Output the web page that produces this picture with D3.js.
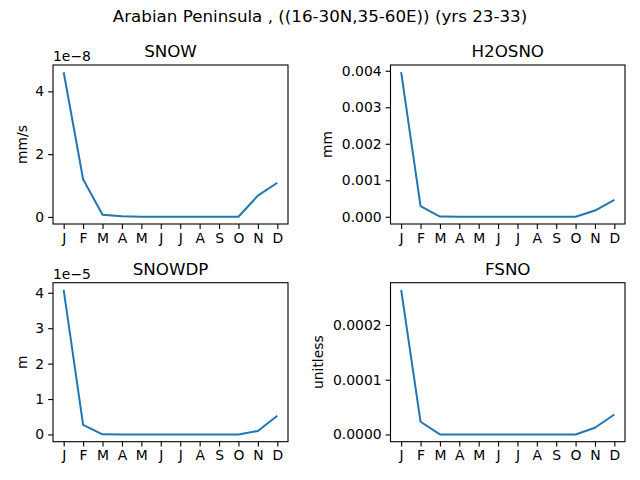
<!DOCTYPE html>
<html>
<head>
<meta charset="utf-8">
<script src="https://cdn.jsdelivr.net/npm/d3@7"></script>
<style>
  body { margin: 0; background: #fff; }
  text { font-family: "DejaVu Sans", sans-serif; fill: #000; }
</style>
</head>
<body>
<svg id="chart" width="640" height="480"></svg>
<script>
// month labels on the x axis
const months = ["J", "F", "M", "A", "M", "J", "J", "A", "S", "O", "N", "D"]

// monthly means
const snow = [4.61e-8, 1.20e-8, 0.07e-8, 0.02e-8, 0.005e-8, 0.005e-8, 0.005e-8, 0.005e-8, 0.005e-8, 0.005e-8, 0.68e-8, 1.09e-8]
const h2osno = [0.00396, 0.00029, 0.000005, 0, 0, 0, 0, 0, 0, 0, 0.00017, 0.00046]
const snowdp = [4.08e-5, 0.27e-5, 0.005e-5, 0, 0, 0, 0, 0, 0, 0, 0.10e-5, 0.53e-5]
const fsno = [2.64e-4, 0.232e-4, 0.001e-4, 0, 0, 0, 0, 0, 0, 0, 0.122e-4, 0.365e-4]

// panel titles, units and y ticks
const titles = ["SNOW", "H2OSNO", "SNOWDP", "FSNO"]
const units = ["mm/s", "mm", "m", "unitless"]
const yTicks = [
  [0, 2e-8, 4e-8],
  [0, 0.001, 0.002, 0.003, 0.004],
  [0, 1e-5, 2e-5, 3e-5, 4e-5],
  [0, 0.0001, 0.0002]
]
const offsets = ["1e\u22128", null, "1e\u22125", null]
const tickFmt = [
  d => d3.format("d")(Math.round(d / 1e-8)),
  d3.format(".3f"),
  d => d3.format("d")(Math.round(d / 1e-5)),
  d3.format(".4f")
]

const series = [snow, h2osno, snowdp, fsno]
const svg = d3.select("#chart")

svg.append("text")
  .attr("x", 320).attr("y", 22)
  .attr("text-anchor", "middle")
  .style("font-size", "16.7px")
  .text("Arabian Peninsula , ((16-30N,35-60E)) (yrs 23-33)")

// axes boxes [left, top, right, bottom]
const boxes = [
  [53, 65, 288, 224],
  [390.5, 65, 625, 224],
  [53, 282.7, 288, 441.7],
  [390.5, 282.7, 625, 441.7]
]
const labelX = [22, 327, 22, 318]

series.forEach((vals, p) => {
  const [l, t, r, b] = boxes[p]
  const g = svg.append("g")

  // 5% margins like matplotlib autoscale
  const xpad = 11 * 0.05
  const x = d3.scaleLinear().domain([-xpad, 11 + xpad]).range([l, r])
  const lo = d3.min(vals), hi = d3.max(vals)
  const pad = (hi - lo) * 0.05
  const y = d3.scaleLinear().domain([lo - pad, hi + pad]).range([b, t])

  // x axis
  const xa = g.append("g").attr("transform", `translate(0,${b})`)
    .call(d3.axisBottom(x).tickValues(d3.range(12)).tickFormat(i => months[i]).tickSize(4.9).tickPadding(4))
  xa.select(".domain").remove()
  xa.selectAll("text").style("font-size", "13.9px").attr("fill", "#000")
  xa.selectAll("line").attr("stroke", "#000").attr("stroke-width", 1.1)

  // y axis
  const ya = g.append("g").attr("transform", `translate(${l},0)`)
    .call(d3.axisLeft(y).tickValues(yTicks[p]).tickFormat(tickFmt[p]).tickSize(4.9).tickPadding(4))
  ya.select(".domain").remove()
  ya.selectAll("text").style("font-size", "13.9px").attr("fill", "#000")
  ya.selectAll("line").attr("stroke", "#000").attr("stroke-width", 1.1)

  // line
  g.append("path")
    .datum(vals)
    .attr("fill", "none")
    .attr("stroke", "#1f77b4")
    .attr("stroke-width", 2)
    .attr("stroke-linejoin", "round")
    .attr("d", d3.line().x((d, i) => x(i)).y(d => y(d)))

  // frame
  g.append("rect")
    .attr("x", l).attr("y", t)
    .attr("width", r - l).attr("height", b - t)
    .attr("fill", "none").attr("stroke", "#000").attr("stroke-width", 1.1)

  g.append("text")
    .attr("x", (l + r) / 2).attr("y", t - 8)
    .attr("text-anchor", "middle")
    .style("font-size", "16.7px")
    .text(titles[p])

  if (offsets[p]) {
    g.append("text")
      .attr("x", l).attr("y", t - 4)
      .style("font-size", "13.9px")
      .text(offsets[p])
  }

  g.append("text")
    .attr("transform", `translate(${labelX[p]},${(t + b) / 2}) rotate(-90)`)
    .attr("text-anchor", "middle")
    .attr("dy", "0.35em")
    .style("font-size", "13.9px")
    .text(units[p])
})
</script>
</body>
</html>
